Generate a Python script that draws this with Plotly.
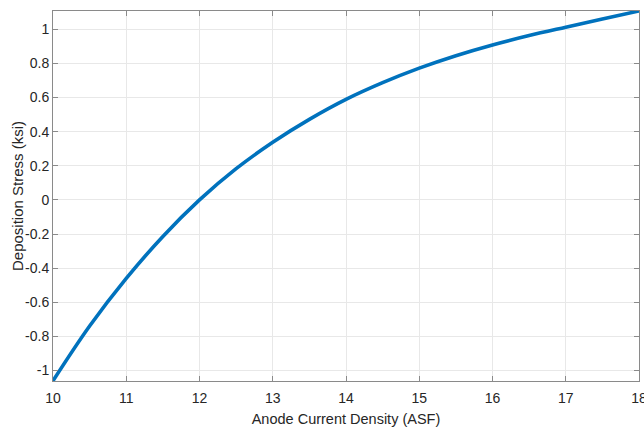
import plotly.graph_objects as go

# Anode current density (ASF) and resulting deposition stress (ksi)
current_density = [10, 10.5, 11, 11.5, 12, 12.5, 13, 13.5, 14, 14.5,
                   15, 15.5, 16, 16.5, 17, 17.5, 18]
deposition_stress = [-1.06, -0.739, -0.46, -0.214, 0.0, 0.183, 0.338, 0.472,
                     0.589, 0.687, 0.772, 0.845, 0.908, 0.963, 1.012, 1.06, 1.107]

x_ticks = [10, 11, 12, 13, 14, 15, 16, 17, 18]
y_ticks = [-1, -0.8, -0.6, -0.4, -0.2, 0, 0.2, 0.4, 0.6, 0.8, 1]
y_tick_text = ["-1", "-0.8", "-0.6", "-0.4", "-0.2", "0", "0.2", "0.4", "0.6", "0.8", "1"]

FONT = "Liberation Sans, Arial, Helvetica, sans-serif"
TEXT_COLOR = "#262626"

fig = go.Figure(
    go.Scatter(
        x=current_density,
        y=deposition_stress,
        mode="lines",
        line=dict(color="#0072BD", width=3.6, shape="spline", smoothing=1.0),
        hoverinfo="skip",
    )
)

axis_common = dict(
    showline=True,
    linecolor="#8a8a8a",
    linewidth=1,
    mirror="ticks",
    ticks="inside",
    ticklen=5,
    tickcolor="#8a8a8a",
    showgrid=True,
    gridcolor="#e8e8e8",
    gridwidth=1,
    zeroline=False,
    automargin=False,
    ticklabeloverflow="allow",
    tickfont=dict(family=FONT, size=14, color=TEXT_COLOR),
)

fig.update_xaxes(
    range=[10, 18],
    tickvals=x_ticks,
    ticktext=[str(v) for v in x_ticks],
    ticklabelstandoff=4,
    title=dict(text="Anode Current Density (ASF)", standoff=13,
               font=dict(family=FONT, size=14.5, color=TEXT_COLOR)),
    **axis_common,
)
fig.update_yaxes(
    range=[-1.061, 1.107],
    tickvals=y_ticks,
    ticktext=y_tick_text,
    **axis_common,
)

fig.add_annotation(
    text="Deposition Stress (ksi)",
    xref="paper", yref="paper",
    x=0, y=0.5,
    xanchor="center", yanchor="middle",
    xshift=-36,
    textangle=-90,
    showarrow=False,
    font=dict(family=FONT, size=15, color=TEXT_COLOR),
)

fig.update_layout(
    width=644,
    height=427,
    margin=dict(l=53, r=5, t=11, b=46),
    paper_bgcolor="white",
    plot_bgcolor="white",
    showlegend=False,
)

fig.write_html("out.html")
